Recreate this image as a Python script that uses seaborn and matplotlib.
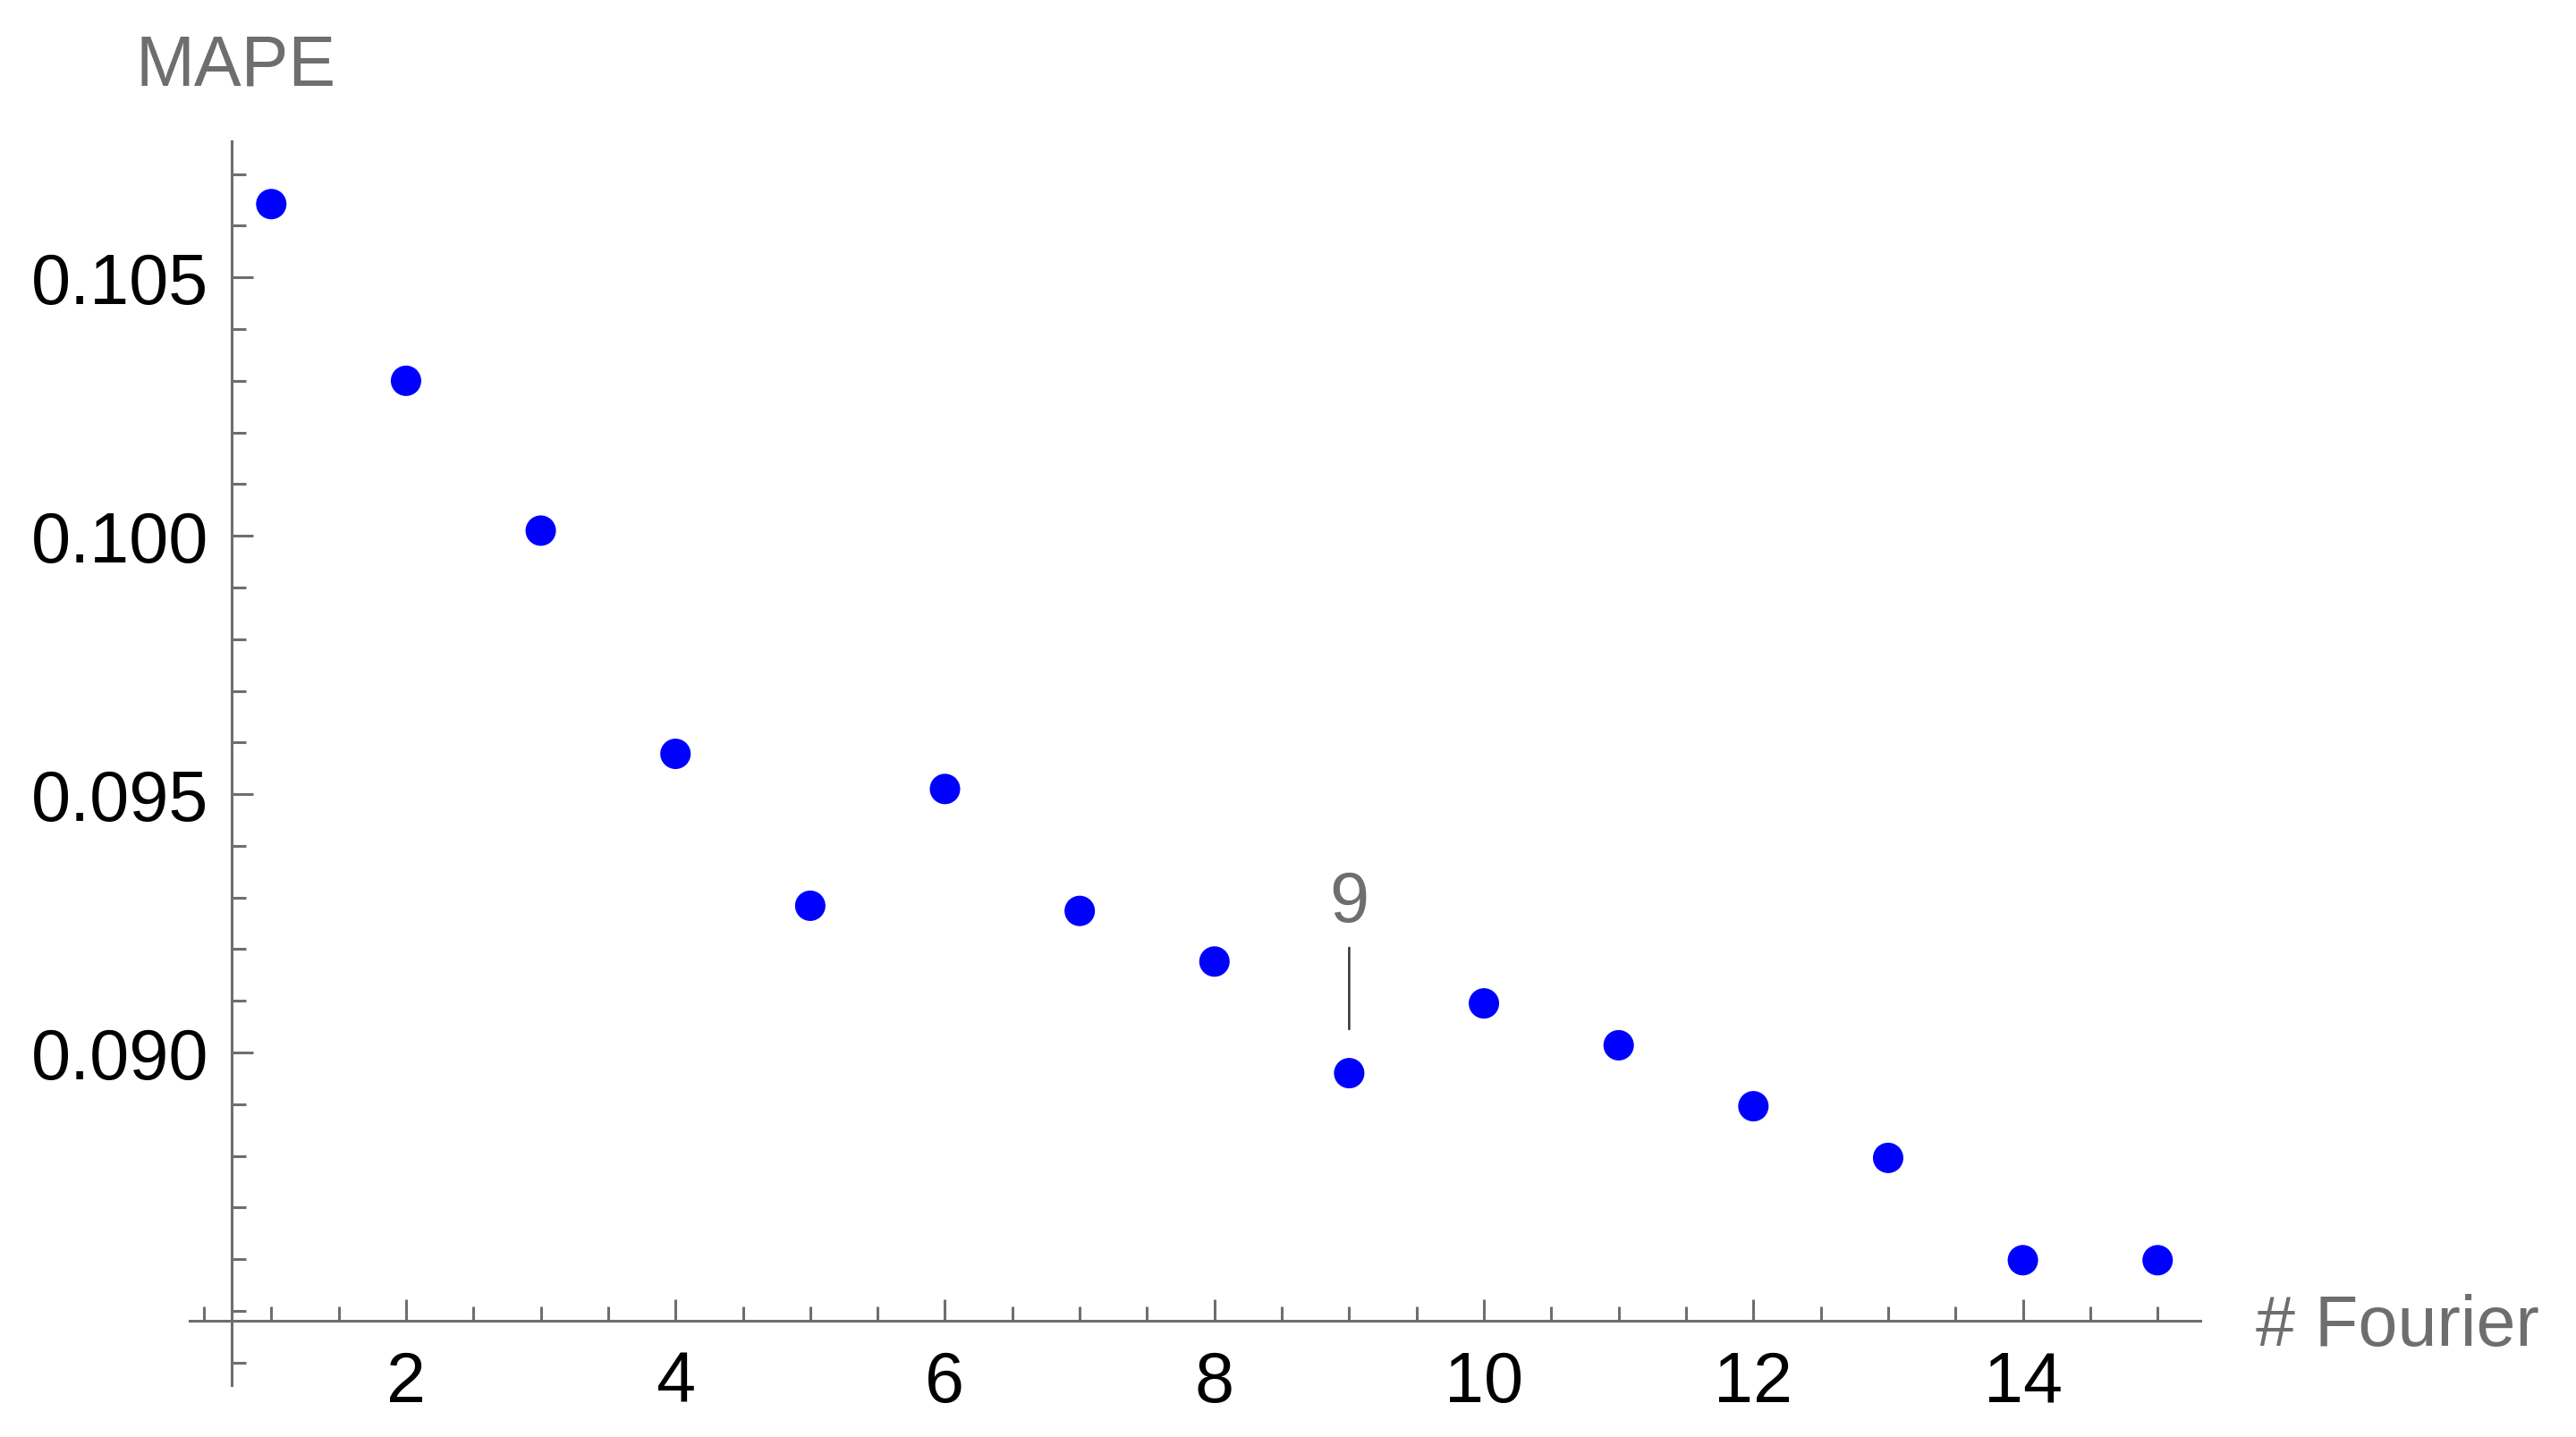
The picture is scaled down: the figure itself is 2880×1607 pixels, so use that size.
import numpy as np
import pandas as pd
import matplotlib
matplotlib.use("Agg")
import matplotlib.pyplot as plt
import seaborn as sns
from matplotlib.ticker import FixedLocator

# ---- data ----
n_fourier = [1, 2, 3, 4, 5, 6, 7, 8, 9, 10, 11, 12, 13, 14, 15]
mape = [0.10642, 0.10300, 0.10010, 0.09578, 0.09284, 0.09510, 0.09274, 0.09176,
        0.08960, 0.09095, 0.09014, 0.08896, 0.08796, 0.08598, 0.08598]
x_major_ticks = [2, 4, 6, 8, 10, 12, 14]
y_major_ticks = [0.090, 0.095, 0.100, 0.105]
y_tick_labels = ["0.090", "0.095", "0.100", "0.105"]
callout_x = 9
callout_label = "9"

sns.set_style("white")
plt.rcParams['font.family'] = ['Liberation Sans', 'DejaVu Sans']

df = pd.DataFrame({"n": n_fourier, "mape": mape})

W, H = 2880, 1608
fig = plt.figure(figsize=(14.4, 8.04), dpi=200)
left_px, right_px, top_px, bottom_px = 211.7, 2460, 158.5, 1550
ax = fig.add_axes([left_px/W, 1 - bottom_px/H, (right_px-left_px)/W, (bottom_px-top_px)/H])

sns.scatterplot(data=df, x="n", y="mape", ax=ax, color="#0000ff", s=150,
                edgecolor="none", linewidth=0, legend=False)

ax.set_xlim(0.392, 15.317)
ax.set_ylim(0.083562, 0.107644)

axis_gray = "#6e6e6e"
for side in ["top", "right"]:
    ax.spines[side].set_visible(False)
ax.spines["left"].set_position(("data", 0.708))
ax.spines["bottom"].set_position(("data", 0.084813))
for side in ["left", "bottom"]:
    ax.spines[side].set_color(axis_gray)
    ax.spines[side].set_linewidth(1.1)

ax.xaxis.set_major_locator(FixedLocator(x_major_ticks))
ax.xaxis.set_minor_locator(FixedLocator([v for v in np.arange(0.5, 15.01, 0.5) if v not in x_major_ticks]))
ax.yaxis.set_major_locator(FixedLocator(y_major_ticks))
ax.yaxis.set_minor_locator(FixedLocator([round(v, 3) for v in np.arange(0.084, 0.1075, 0.001)
                                         if round(v, 3) not in y_major_ticks]))
ax.set_yticklabels(y_tick_labels)

ax.tick_params(axis="both", which="major", direction="in", length=8.7, width=1.1,
               color=axis_gray, labelsize=28.5, labelcolor="black")
ax.tick_params(axis="both", which="minor", direction="in", length=5.6, width=1.1,
               color=axis_gray)
ax.tick_params(axis="x", which="both", bottom=True, pad=11.5)
ax.tick_params(axis="y", which="both", left=True, pad=9.5)

ax.set_xlabel("")
ax.set_ylabel("")

label_gray = "#6e6e6e"
fig.text(152/W, 1 - 96/H, "MAPE", fontsize=28.5, color=label_gray,
         ha="left", va="baseline")
fig.text(2521.7/W, 1 - 1505/H, "# Fourier", fontsize=28.5, color=label_gray,
         ha="left", va="baseline")

# callout for point 9
y9 = mape[n_fourier.index(callout_x)]
ax.annotate("", xy=(callout_x, y9), xytext=(0, 50.5), textcoords="offset points",
            arrowprops=dict(arrowstyle="-", color="#333333", lw=0.9,
                            shrinkA=0, shrinkB=17.7))
ax.annotate(callout_label, xy=(callout_x, y9), xytext=(0, 61.3), textcoords="offset points",
            ha="center", va="baseline", fontsize=28.5, color=label_gray)

fig.savefig("out.png", dpi=200, facecolor="white")
